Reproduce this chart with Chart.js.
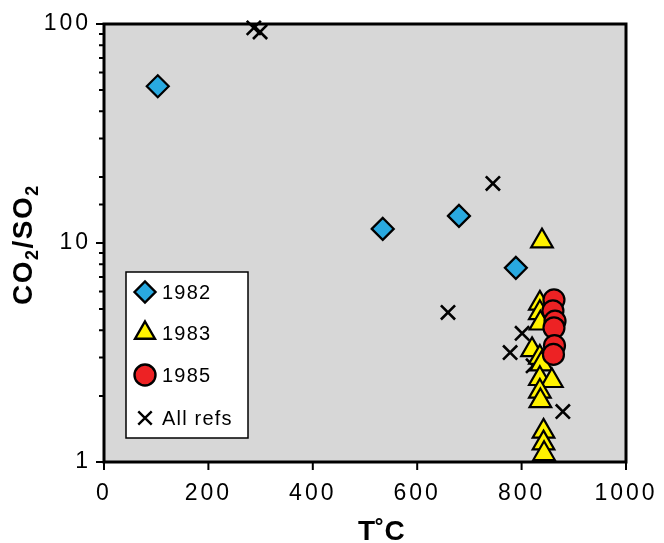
<!DOCTYPE html>
<html>
<head>
<meta charset="utf-8">
<script src="https://cdn.jsdelivr.net/npm/chart.js@4/dist/chart.umd.min.js"></script>
<style>
  html, body { margin: 0; padding: 0; background: #fff; }
  #wrap { width: 664px; height: 543px; }
</style>
</head>
<body>
<div id="wrap"><canvas id="co2Chart" width="664" height="543"></canvas></div>
<script>
// T (deg C) and CO2/SO2
const temps1982 = [103, 534, 680, 789];
const ratios1982 = [52, 11.6, 13.3, 7.7];

const temps1983 = [839, 835, 835, 836, 820, 835, 838, 835, 858, 835, 836, 842, 842, 843];
const ratios1983 = [10.2, 5.3, 4.8, 4.3, 3.25, 3.0, 2.8, 2.4, 2.35, 2.1, 1.9, 1.38, 1.22, 1.09];

const temps1985 = [862, 860, 864, 862, 863, 861];
const ratios1985 = [5.5, 4.9, 4.4, 4.1, 3.4, 3.1];

const tempsRefs = [287, 299, 745, 659, 801, 778, 822, 879];
const ratiosRefs = [96, 92, 18.7, 4.82, 3.87, 3.16, 2.75, 1.7];

const xTicks = [0, 200, 400, 600, 800, 1000];
const yLabels = [1, 10, 100];

const toPoints = (xs, ys) => xs.map((x, i) => ({ x: x, y: ys[i] }));

const colors = {
    blue: '#29a9e0',
    yellow: '#fff200',
    red: '#ed2224',
    plotBg: '#d7d7d7'
};

const series = [
    { label: '1982', data: toPoints(temps1982, ratios1982), pointStyle: 'rectRot', radius: 11, fill: colors.blue, order: 2 },
    { label: '1983', data: toPoints(temps1983, ratios1983), pointStyle: 'triangle', radius: 12.5, fill: colors.yellow, order: 1 },
    { label: '1985', data: toPoints(temps1985, ratios1985), pointStyle: 'circle', radius: 10.5, fill: colors.red, order: 0 },
    { label: 'All refs', data: toPoints(tempsRefs, ratiosRefs), pointStyle: 'crossRot', radius: 10, fill: '#000', order: 3 }
];

const TICK_FONT = { family: '"Liberation Sans", Arial, sans-serif', size: 23 };

// grey plot area, box, tick marks, titles, legend
const framePlugin = {
    id: 'frame',
    beforeDraw(chart) {
        const { ctx, chartArea: a } = chart;
        ctx.save();
        ctx.fillStyle = colors.plotBg;
        ctx.fillRect(a.left, a.top, a.right - a.left, a.bottom - a.top);
        ctx.restore();
        ctx.letterSpacing = '3px';
    },
    beforeDatasetsDraw(chart) {
        chart.ctx.letterSpacing = '0px';
    },
    afterDraw(chart) {
        const { ctx, chartArea: a, scales } = chart;
        ctx.save();
        ctx.strokeStyle = '#000';
        ctx.lineWidth = 3;
        ctx.strokeRect(a.left, a.top, a.right - a.left, a.bottom - a.top);

        // tick marks
        ctx.lineWidth = 2;
        ctx.beginPath();
        scales.x.ticks.forEach(t => {
            const px = scales.x.getPixelForValue(t.value);
            ctx.moveTo(px, a.bottom);
            ctx.lineTo(px, a.bottom + 8);
        });
        scales.y.ticks.forEach(t => {
            const py = scales.y.getPixelForValue(t.value);
            const major = Math.abs(Math.log10(t.value) % 1) < 1e-9;
            ctx.moveTo(a.left - (major ? 8 : 5), py);
            ctx.lineTo(a.left, py);
        });
        ctx.stroke();

        // x title
        ctx.fillStyle = '#000';
        ctx.font = 'bold 28px "Liberation Sans", Arial, sans-serif';
        ctx.textAlign = 'left';
        ctx.textBaseline = 'alphabetic';
        ctx.fillText('T˚C', 358, 540);

        // y title with subscripts
        ctx.save();
        ctx.translate(32, 305);
        ctx.rotate(-Math.PI / 2);
        ctx.letterSpacing = '1.5px';
        let cx = 0;
        const parts = [['CO', false], ['2', true], ['/SO', false], ['2', true]];
        parts.forEach(([txt, sub]) => {
            ctx.font = sub ? 'bold 18px "Liberation Sans", Arial, sans-serif'
                           : 'bold 28px "Liberation Sans", Arial, sans-serif';
            ctx.fillText(txt, cx, sub ? 6 : 0);
            cx += ctx.measureText(txt).width;
        });
        ctx.restore();

        // legend box
        ctx.fillStyle = '#fff';
        ctx.fillRect(126, 272, 122, 166);
        ctx.lineWidth = 1.5;
        ctx.strokeRect(126, 272, 122, 166);
        const rows = [292, 333, 375, 418];
        ctx.font = '20px "Liberation Sans", Arial, sans-serif';
        ctx.letterSpacing = '1.2px';
        ctx.textBaseline = 'middle';
        series.forEach((s, i) => {
            ctx.fillStyle = s.fill;
            ctx.strokeStyle = '#000';
            ctx.lineWidth = 2.4;
            Chart.helpers.drawPoint(ctx, {
                pointStyle: s.pointStyle,
                radius: s.pointStyle === 'crossRot' ? 9.5 : (s.pointStyle === 'triangle' ? 11.5 : 10.5),
                rotation: 0,
                borderWidth: 2.4
            }, 145, rows[i]);
            ctx.fillStyle = '#000';
            ctx.fillText(s.label, 162, rows[i] + 1);
        });
        ctx.letterSpacing = '0px';
        ctx.restore();
    }
};

const ctx = document.getElementById('co2Chart');

new Chart(ctx.getContext('2d'), {
    type: 'scatter',
    data: {
        datasets: series.map(s => ({
            label: s.label,
            data: s.data,
            order: s.order,
            pointStyle: s.pointStyle,
            pointRadius: s.radius,
            pointBackgroundColor: s.fill,
            pointBorderColor: '#000',
            pointBorderWidth: s.pointStyle === 'crossRot' ? 2.6 : 2.2,
            clip: false
        }))
    },
    options: {
        responsive: false,
        animation: false,
        events: [],
        layout: { padding: { top: 24, right: 38, left: 0, bottom: 0 } },
        plugins: {
            legend: { display: false },
            tooltip: { enabled: false }
        },
        scales: {
            x: {
                type: 'linear',
                min: 0,
                max: 1000,
                afterFit: scale => { scale.height = 81; },
                afterBuildTicks: scale => { scale.ticks = xTicks.map(v => ({ value: v })); },
                grid: { display: true, drawOnChartArea: false, color: 'transparent', tickLength: 8 },
                border: { display: false },
                ticks: {
                    color: '#000',
                    font: TICK_FONT,
                    padding: 10,
                    maxRotation: 0,
                    autoSkip: false,
                    callback: v => String(v)
                }
            },
            y: {
                type: 'logarithmic',
                min: 1,
                max: 100,
                afterFit: scale => { scale.width = 104; },
                grid: { display: true, drawOnChartArea: false, color: 'transparent', tickLength: 8 },
                border: { display: false },
                ticks: {
                    color: '#000',
                    font: TICK_FONT,
                    padding: 5,
                    autoSkip: false,
                    callback: v => (yLabels.includes(v) ? String(v) : '')
                }
            }
        }
    },
    plugins: [framePlugin]
});
</script>
</body>
</html>
